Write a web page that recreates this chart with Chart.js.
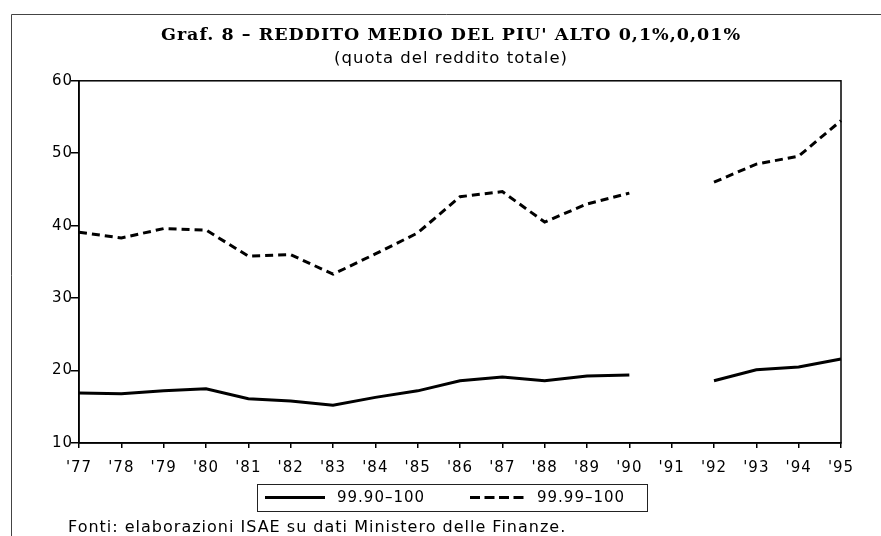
<!DOCTYPE html>
<html>
<head>
<meta charset="utf-8">
<script src="https://cdn.jsdelivr.net/npm/chart.js@4/dist/chart.umd.min.js"></script>
<style>
  html, body { margin: 0; padding: 0; background: #fff; }
  #wrap { width: 881px; height: 536px; position: relative; }
</style>
</head>
<body>
<div id="wrap"><canvas id="c" width="881" height="536"></canvas></div>
<script>
const years = ["'77","'78","'79","'80","'81","'82","'83","'84","'85","'86","'87","'88","'89","'90","'91","'92","'93","'94","'95"];
const top01 = [16.9,16.8,17.2,17.5,16.1,15.8,15.2,16.3,17.2,18.6,19.1,18.6,19.25,19.4,null,18.6,20.1,20.5,21.6];
const top001 = [39.1,38.3,39.6,39.4,35.8,36.0,33.3,36.1,39.0,44.0,44.7,40.5,43.0,44.5,null,46.0,48.5,49.6,54.5];
const yTicks = [10,20,30,40,50,60];
const seriesNames = ["99.90\u2013100", "99.99\u2013100"];
const titleText = "Graf. 8 \u2013 REDDITO MEDIO DEL PIU' ALTO 0,1%,0,01%";
const subtitleText = "(quota del reddito totale)";
const sourceText = "Fonti: elaborazioni ISAE su dati Ministero delle Finanze.";

const SANS = "'DejaVu Sans', sans-serif";

const decor = {
  id: 'decor',
  afterLayout(chart) {
    const y = chart.scales.y;
    y.left = 30;
    y.width = y.right - y.left;
  },
  beforeDraw(chart) {
    const ctx = chart.ctx;
    ctx.save();
    ctx.fillStyle = '#fff';
    ctx.fillRect(0, 0, chart.width, chart.height);
    ctx.strokeStyle = '#444';
    ctx.lineWidth = 1;
    ctx.beginPath();
    ctx.moveTo(11.5, 540);
    ctx.lineTo(11.5, 14.5);
    ctx.lineTo(885, 14.5);
    ctx.stroke();
    ctx.restore();
    ctx.letterSpacing = '1px';
  },
  afterDraw(chart) {
    const ctx = chart.ctx;
    const a = chart.chartArea;
    ctx.save();
    // plot frame
    ctx.strokeStyle = '#000';
    ctx.lineWidth = 1.5;
    ctx.strokeRect(a.left, a.top, a.right - a.left, a.bottom - a.top);
    // legend box
    ctx.lineWidth = 1;
    ctx.strokeStyle = '#222';
    ctx.strokeRect(257.5, 484.5, 390, 27);
    ctx.strokeStyle = '#000';
    ctx.lineWidth = 3;
    ctx.beginPath();
    ctx.moveTo(265, 497.5); ctx.lineTo(325, 497.5);
    ctx.stroke();
    ctx.setLineDash([10, 4.5]);
    ctx.beginPath();
    ctx.moveTo(470, 497.5); ctx.lineTo(524, 497.5);
    ctx.stroke();
    ctx.setLineDash([]);
    ctx.fillStyle = '#000';
    ctx.letterSpacing = '1px';
    ctx.font = "15px " + SANS;
    ctx.textBaseline = 'middle';
    ctx.textAlign = 'left';
    ctx.fillText(seriesNames[0], 337, 498);
    ctx.fillText(seriesNames[1], 537, 498);
    ctx.font = "16px " + SANS;
    ctx.fillText(sourceText, 68, 528);
    ctx.restore();
  }
};

new Chart(document.getElementById('c'), {
  type: 'line',
  data: {
    labels: years,
    datasets: [
      { label: seriesNames[0], data: top01, borderColor: '#000', borderWidth: 3, pointRadius: 0, tension: 0, spanGaps: false, fill: false },
      { label: seriesNames[1], data: top001, borderColor: '#000', borderWidth: 3, borderDash: [8, 5], pointRadius: 0, tension: 0, spanGaps: false, fill: false }
    ]
  },
  options: {
    responsive: false,
    animation: false,
    devicePixelRatio: 1,
    layout: { padding: { left: 61, right: 40, top: 0, bottom: 53 } },
    plugins: {
      legend: { display: false },
      tooltip: { enabled: false },
      title: {
        display: true, text: titleText, color: '#000',
        font: { family: "'DejaVu Serif', serif", size: 17.5, weight: 'bold', lineHeight: 1.2 },
        padding: { top: 25, bottom: 2 }
      },
      subtitle: {
        display: true, text: subtitleText, color: '#000',
        font: { family: SANS, size: 16.5, lineHeight: 1.2 },
        padding: { top: 1, bottom: 12 }
      }
    },
    scales: {
      x: {
        type: 'category',
        offset: false,
        grid: { display: true, drawOnChartArea: false, drawTicks: true, tickLength: 5, color: '#000', lineWidth: 1.5 },
        border: { display: true, color: '#000', width: 1.5 },
        ticks: { color: '#000', font: { family: SANS, size: 15 }, padding: 11, maxRotation: 0, autoSkip: false },
        afterFit(s) { s.height = 40; }
      },
      y: {
        min: 10, max: 60,
        afterBuildTicks(s) { s.ticks = yTicks.map(v => ({ value: v })); },
        grid: { display: true, drawOnChartArea: false, drawTicks: true, tickLength: 8, color: '#000', lineWidth: 1.5 },
        border: { display: true, color: '#000', width: 1.5 },
        ticks: { color: '#000', font: { family: SANS, size: 15 }, padding: -2 },
        afterFit(s) { s.width = 18; }
      }
    }
  },
  plugins: [decor]
});
</script>
</body>
</html>
